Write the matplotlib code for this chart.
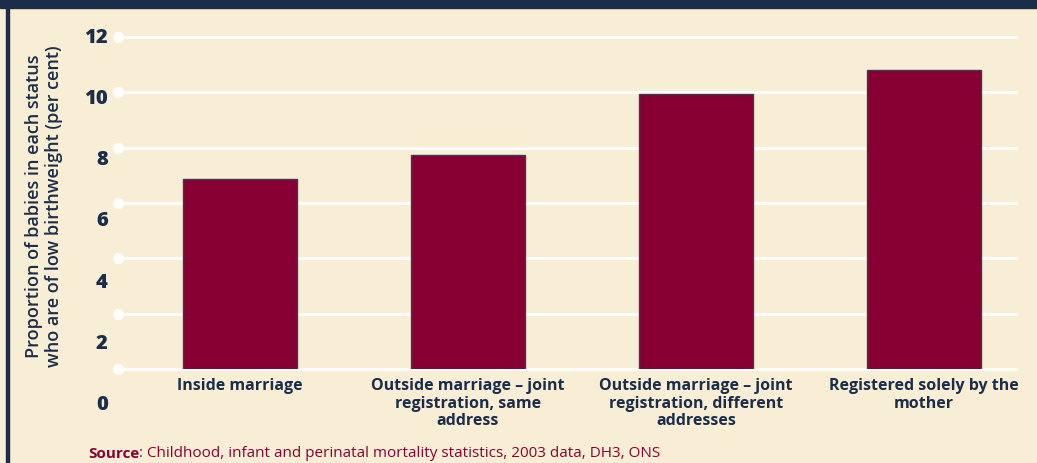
import matplotlib.pyplot as plt
from matplotlib.patches import Rectangle

# data
categories = ['Inside marriage',
              'Outside marriage \u2013 joint\nregistration, same\naddress',
              'Outside marriage \u2013 joint\nregistration, different\naddresses',
              'Registered solely by the\nmother']
values = [6.88, 7.72, 9.95, 10.8]
tick_values = [0, 2, 4, 6, 8, 10, 12]

navy = '#1b2d4a'
cream = '#f8eed5'
crimson = '#880033'

plt.rcParams['font.family'] = ['Open Sans', 'DejaVu Sans']

fig = plt.figure(figsize=(10.37, 4.64), dpi=100, facecolor=cream)
ax = fig.add_axes([118 / 1037, 94 / 464, 898 / 1037, 332 / 464])
ax.set_facecolor(cream)

x = list(range(len(categories)))
ax.set_xlim(-0.535, 3.404)
ax.set_ylim(0, 12)

# white gridlines with a dot at the left end
for v in tick_values:
    ax.axhline(v, color='white', lw=2, zorder=1, clip_on=False)
    ax.plot([-0.535], [v], 'o', color='white', ms=7, zorder=1, clip_on=False)

ax.bar(x, values, width=0.5, color=crimson, edgecolor='#3a3a50', linewidth=1, zorder=2)

for s in ax.spines.values():
    s.set_visible(False)
ax.set_xticks([])
ax.set_yticks([])

# y tick labels sit on their own (wider) spacing in the original
for v in tick_values:
    ypos = 12.0 - (12 - v) * 1.105
    ax.text(-0.58, ypos, str(v), ha='right', va='center', fontsize=14.5,
            fontweight='heavy', color=navy, clip_on=False)

for xi, lab in zip(x, categories):
    ax.text(xi, -0.28, lab, ha='center', va='top', fontsize=11.5,
            fontweight='bold', color=navy, linespacing=1.15, clip_on=False)

fig.text(0.042, 0.555, 'Proportion of babies in each status\nwho are of low birthweight (per cent)',
         rotation=90, ha='center', va='center', fontsize=13, fontweight='semibold',
         color=navy, linespacing=1.15)

t1 = fig.text(88 / 1037, 6 / 464, 'Source', ha='left', va='baseline', fontsize=11,
              fontweight='bold', color=crimson)
ax.annotate(': Childhood, infant and perinatal mortality statistics, 2003 data, DH3, ONS',
            xy=(1, 0), xycoords=t1, ha='left', va='bottom', fontsize=11,
            color=crimson, annotation_clip=False)

# top band and left border
fig.patches.append(Rectangle((0, 1 - 9 / 464), 1, 9 / 464, transform=fig.transFigure,
                             color=navy, zorder=5))
fig.patches.append(Rectangle((6 / 1037, 0), 2.5 / 1037, 1, transform=fig.transFigure,
                             color=navy, zorder=5))

fig.savefig('out.png', dpi=100, facecolor=cream)
